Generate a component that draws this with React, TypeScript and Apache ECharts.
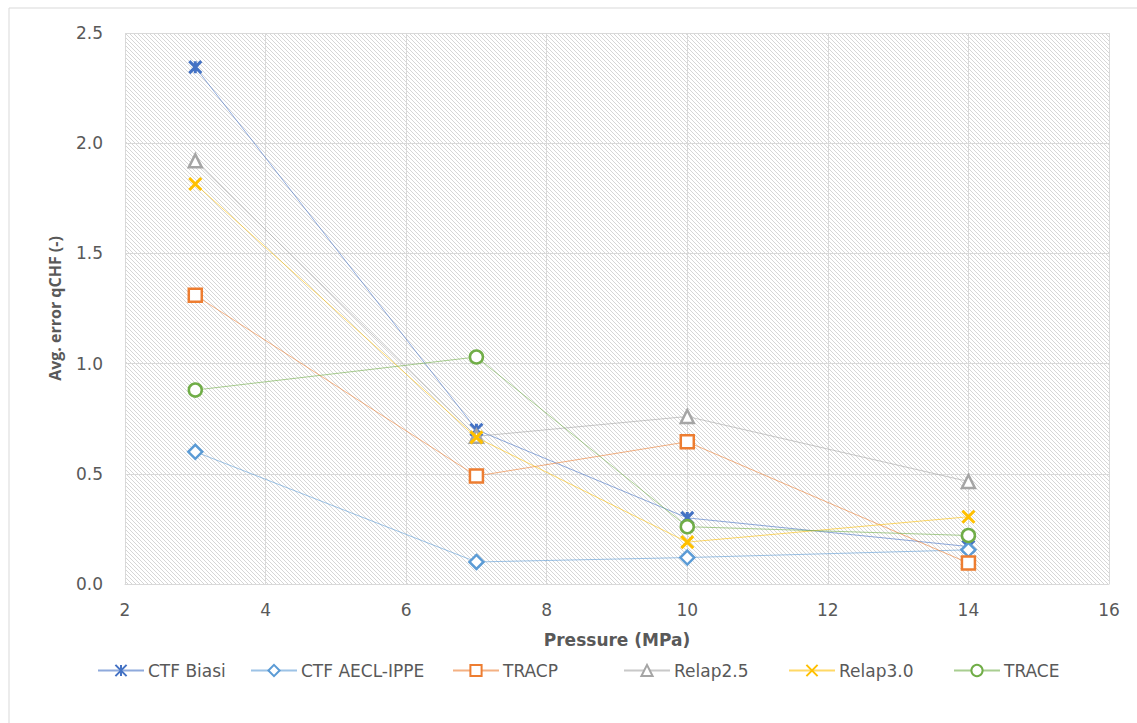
import React, { useEffect, useRef } from "react";
import * as echarts from "echarts";

const pressures = [3, 7, 10, 14];
const ctfBiasi = [2.345, 0.70, 0.30, 0.17];
const ctfAecl = [0.60, 0.10, 0.12, 0.155];
const tracp = [1.31, 0.49, 0.645, 0.095];
const relap25 = [1.92, 0.67, 0.76, 0.465];
const relap30 = [1.815, 0.665, 0.19, 0.305];
const trace = [0.88, 1.03, 0.26, 0.22];

const seriesNames = ["CTF Biasi", "CTF AECL-IPPE", "TRACP", "Relap2.5", "Relap3.0", "TRACE"];
const seriesValues = [ctfBiasi, ctfAecl, tracp, relap25, relap30, trace];
const seriesColors = ["#4472C4", "#5B9BD5", "#ED7D31", "#A5A5A5", "#FFC000", "#70AD47"];
const seriesSymbols = [
  "path://M0,0 L10,10 M0,10 L10,0 M5,0 L5,10",
  "diamond",
  "rect",
  "triangle",
  "path://M0,0 L10,10 M0,10 L10,0",
  "circle",
];
const legendLefts = [97, 250, 452, 623, 788, 953];

function makeHatch(): HTMLCanvasElement {
  const c = document.createElement("canvas");
  c.width = 4;
  c.height = 4;
  const ctx = c.getContext("2d")!;
  ctx.fillStyle = "#ffffff";
  ctx.fillRect(0, 0, 4, 4);
  ctx.fillStyle = "#d6d6d6";
  for (let i = 0; i < 4; i++) ctx.fillRect(i, i, 1, 1);
  return c;
}

export default function App() {
  const ref = useRef<HTMLDivElement>(null);
  useEffect(() => {
    const chart = echarts.init(ref.current!, null, { renderer: "svg" });
    const font = "'DejaVu Sans', sans-serif";
    const series = seriesNames.map((name, k) => {
      const c = seriesColors[k];
      const isPath = seriesSymbols[k].startsWith("path://");
      return {
        name,
        type: "line",
        data: pressures.map((p, i) => [p, seriesValues[k][i]]),
        symbol: seriesSymbols[k],
        symbolSize: isPath ? 12 : k === 1 ? 14 : 13,
        lineStyle: { color: c, width: 1, opacity: 0.6 },
        itemStyle: {
          color: isPath ? c : "#ffffff",
          borderColor: c,
          borderWidth: isPath ? 3 : 2.5,
          opacity: 1,
        },
        emphasis: { disabled: true },
        z: 3 + k,
      };
    });
    const legends = seriesNames.map((name, k) => ({
      left: legendLefts[k],
      top: 662,
      padding: 0,
      itemWidth: 46,
      itemHeight: 14,
      itemGap: 0,
      data: [name],
      textStyle: { color: "#595959", fontSize: 17, fontFamily: font, padding: [0, 0, 0, -1] },
    }));
    chart.setOption({
      animation: false,
      textStyle: { fontFamily: font },
      graphic: [
        {
          type: "rect",
          shape: { x: 9, y: 8, width: 1140, height: 740 },
          style: { fill: "none", stroke: "#d9d9d9", lineWidth: 1 },
          silent: true,
          z: -10,
        },
        {
          type: "text",
          x: 617,
          y: 640,
          style: {
            text: "Pressure (MPa)",
            fill: "#595959",
            font: `bold 17px ${font}`,
            align: "center",
            verticalAlign: "middle",
          },
        },
      ],
      grid: {
        left: 125,
        right: 28,
        top: 33,
        bottom: 139,
        show: true,
        borderWidth: 0,
        backgroundColor: { image: makeHatch(), repeat: "repeat" },
      },
      legend: legends,
      xAxis: {
        type: "value",
        min: 2,
        max: 16,
        interval: 2,
        axisLine: { show: true, lineStyle: { color: "#d9d9d9" } },
        axisTick: { show: false },
        axisLabel: { color: "#595959", fontSize: 17, margin: 17 },
        splitLine: { show: true, lineStyle: { color: "#d9d9d9", width: 1 } },
      },
      yAxis: {
        type: "value",
        min: 0,
        max: 2.5,
        interval: 0.5,
        name: "Avg. error qCHF (-)",
        nameLocation: "middle",
        nameGap: 62,
        nameTextStyle: {
          color: "#595959",
          fontSize: 16,
          fontWeight: "bold",
          fontFamily: "'Open Sans', sans-serif",
        },
        axisLine: { show: false },
        axisTick: { show: false },
        axisLabel: {
          color: "#595959",
          fontSize: 17,
          margin: 22,
          formatter: (v: number) => v.toFixed(1),
        },
        splitLine: { show: true, lineStyle: { color: "#d9d9d9", width: 1 } },
      },
      series,
    });
    return () => chart.dispose();
  }, []);
  return (
    <div
      ref={ref}
      style={{ position: "fixed", left: 0, top: 0, width: 1137, height: 723, background: "#fff" }}
    />
  );
}
